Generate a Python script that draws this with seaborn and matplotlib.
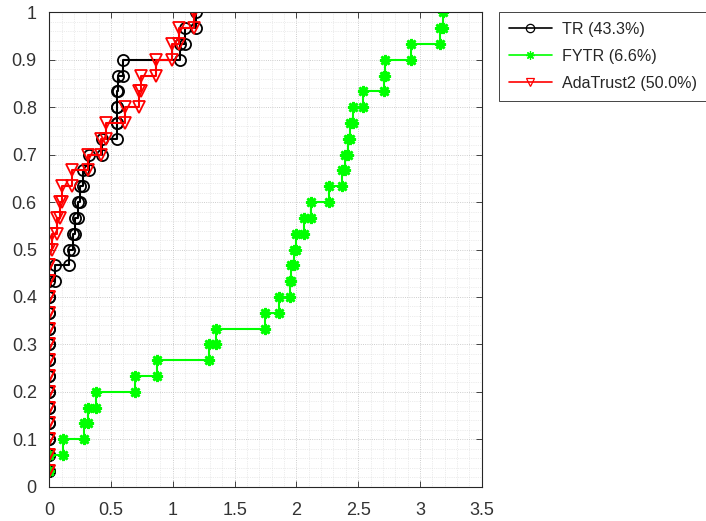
import numpy as np
import pandas as pd
import matplotlib
matplotlib.use("Agg")
import matplotlib.pyplot as plt
import seaborn as sns
from matplotlib.ticker import MultipleLocator, FuncFormatter

# log2 performance ratios per problem (30 problems)
tr_ratio = [0, 0, 0, 0, 0, 0, 0, 0, 0, 0, 0, 0, 0,
            0.05, 0.16, 0.19, 0.21, 0.23, 0.25, 0.27, 0.32, 0.43,
            0.55, 0.55, 0.55, 0.56, 0.60, 1.06, 1.10, 1.19]
fytr_ratio = [0, 0, 0.11, 0.28, 0.31, 0.38, 0.69, 0.87, 1.29, 1.35,
              1.75, 1.86, 1.95, 1.96, 1.98, 2.00, 2.06, 2.12, 2.26, 2.37,
              2.39, 2.42, 2.43, 2.46, 2.54, 2.71, 2.72, 2.93, 3.16, 3.19]
ada_ratio = [0, 0, 0, 0, 0, 0, 0, 0, 0, 0, 0, 0, 0, 0, 0,
             0.02, 0.06, 0.09, 0.10, 0.18, 0.31, 0.42, 0.46, 0.61,
             0.73, 0.74, 0.86, 0.99, 1.05, 1.17]

solvers = ["TR (43.3%)", "FYTR (6.6%)", "AdaTrust2 (50.0%)"]
ratios = [tr_ratio, fytr_ratio, ada_ratio]
colors = ["black", "#00ff00", "red"]
markers = ["o", (8, 2, 0), "v"]
edge_w = [1.3, 1.9, 1.3]


def profile_steps(r):
    r = np.sort(np.asarray(r, dtype=float))
    n = len(r)
    y = np.arange(1, n + 1) / n
    xs, ys = [r[0]], [y[0]]
    for k in range(1, n):
        xs += [r[k], r[k]]
        ys += [y[k - 1], y[k]]
    return xs, ys


sns.set_style("ticks")
plt.rcParams["font.family"] = ["Liberation Sans", "DejaVu Sans"]

fig = plt.figure(figsize=(7.06, 5.21), dpi=100)
ax = fig.add_axes([0.0698, 0.0658, 0.6125, 0.9106])

for name, r, c, m, ew in zip(solvers, ratios, colors, markers, edge_w):
    xs, ys = profile_steps(r)
    df = pd.DataFrame({"x": xs, "y": ys})
    sns.lineplot(data=df, x="x", y="y", sort=False, estimator=None, ax=ax,
                 color=c, linewidth=1.5, marker=m, markersize=8,
                 markerfacecolor="none", markeredgecolor=c,
                 markeredgewidth=ew, label=name)

ax.set_xlim(0, 3.5)
ax.set_ylim(0, 1)
ax.set_xlabel("")
ax.set_ylabel("")
ax.xaxis.set_major_locator(MultipleLocator(0.5))
ax.yaxis.set_major_locator(MultipleLocator(0.1))
ax.xaxis.set_minor_locator(MultipleLocator(0.1))
ax.yaxis.set_minor_locator(MultipleLocator(0.02))
fmt = FuncFormatter(lambda v, p: "%g" % round(v, 2))
ax.xaxis.set_major_formatter(fmt)
ax.yaxis.set_major_formatter(fmt)

ax.grid(which="major", linestyle=":", color="#bdbdbd", linewidth=0.6)
ax.grid(which="minor", linestyle=":", color="#dadada", linewidth=0.5)
ax.set_axisbelow(True)

for s in ax.spines.values():
    s.set_visible(True)
    s.set_color("#262626")
    s.set_linewidth(0.8)
ax.tick_params(which="major", direction="in", length=4, width=0.6,
               top=True, right=True, colors="#262626", labelsize=13,
               labelcolor="#333333")
ax.tick_params(axis="x", which="major", pad=11)
ax.tick_params(axis="y", which="major", pad=9)
ax.tick_params(which="minor", length=0, top=True, right=True)

leg = ax.legend(loc="upper left", bbox_to_anchor=(1.04, 1.0), borderaxespad=0,
                fancybox=False, framealpha=1, edgecolor="#262626",
                fontsize=11.6, handlelength=2.7, handletextpad=0.6,
                labelspacing=0.75, borderpad=0.6, numpoints=1)
leg.get_frame().set_linewidth(0.6)
for t in leg.get_texts():
    t.set_color("#262626")
for h in leg.legend_handles:
    h.set_markersize(6)
    h.set_markeredgewidth(0.9)
    h.set_linewidth(1.2)

fig.savefig("out.png", dpi=100)
